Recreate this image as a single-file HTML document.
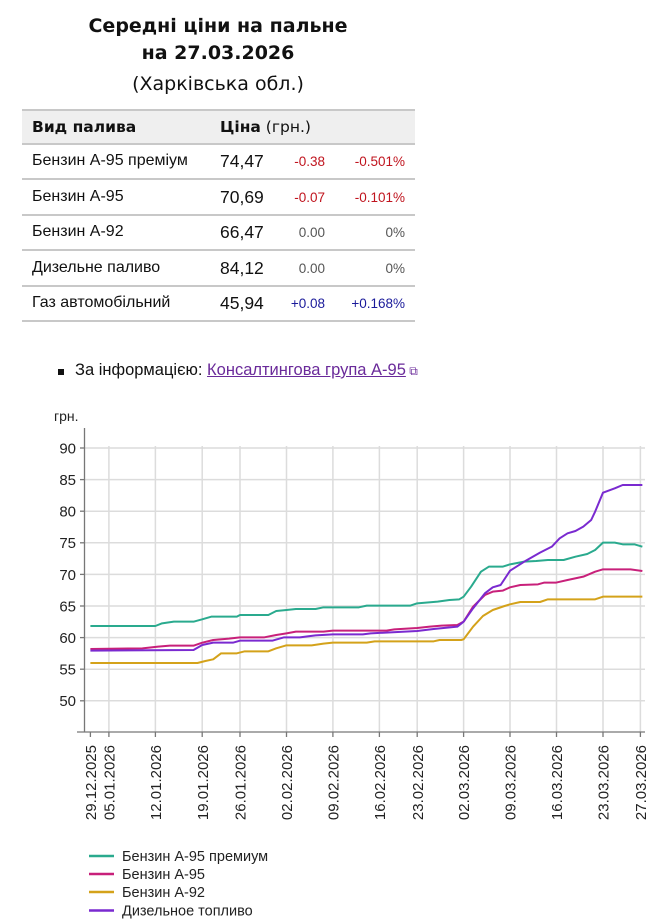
<!DOCTYPE html>
<html><head><meta charset="utf-8"><style>
body{margin:0;width:650px;height:924px;background:#fff;position:relative;font-family:"Liberation Sans",sans-serif;color:#111;overflow:hidden}
.t{position:absolute;left:0;width:436px;text-align:center;font-family:"DejaVu Sans",sans-serif}
.a{position:absolute;white-space:nowrap}
.hl{position:absolute;left:22px;width:393px;height:2px;background:#c8c8c8}
</style></head><body>
<div class="t" style="top:15px;font-size:19px;font-weight:bold">Середні ціни на пальне</div>
<div class="t" style="top:42px;font-size:19px;font-weight:bold">на 27.03.2026</div>
<div class="t" style="top:73px;font-size:19px">(Харківська обл.)</div>

<div style="position:absolute;left:22px;top:110px;width:393px;height:34px;background:#efefef"></div>
<div class="hl" style="top:109px"></div>
<div class="hl" style="top:143px"></div>
<div class="hl" style="top:178px"></div>
<div class="hl" style="top:214px"></div>
<div class="hl" style="top:249px"></div>
<div class="hl" style="top:285px"></div>
<div class="hl" style="top:320px"></div>
<div class="a" style="left:32px;top:118px;font:bold 15.5px 'DejaVu Sans',sans-serif">Вид палива</div>
<div class="a" style="left:220px;top:118px;font:15.5px 'DejaVu Sans',sans-serif"><b>Ціна</b> (грн.)</div>

<div class="a" style="left:32px;top:152px;font-size:16px">Бензин А-95 преміум</div>
<div class="a" style="left:32px;top:188px;font-size:16px">Бензин А-95</div>
<div class="a" style="left:32px;top:223px;font-size:16px">Бензин А-92</div>
<div class="a" style="left:32px;top:259px;font-size:16px">Дизельне паливо</div>
<div class="a" style="left:32px;top:294px;font-size:16px">Газ автомобільний</div>

<div class="a" style="left:220px;top:151px;font-size:17.5px">74,47</div>
<div class="a" style="left:220px;top:187px;font-size:17.5px">70,69</div>
<div class="a" style="left:220px;top:222px;font-size:17.5px">66,47</div>
<div class="a" style="left:220px;top:258px;font-size:17.5px">84,12</div>
<div class="a" style="left:220px;top:293px;font-size:17.5px">45,94</div>

<div class="a" style="right:325px;top:154px;font-size:13.5px;color:#c0141e">-0.38</div>
<div class="a" style="right:325px;top:190px;font-size:13.5px;color:#c0141e">-0.07</div>
<div class="a" style="right:325px;top:225px;font-size:13.5px;color:#555">0.00</div>
<div class="a" style="right:325px;top:261px;font-size:13.5px;color:#555">0.00</div>
<div class="a" style="right:325px;top:296px;font-size:13.5px;color:#1a1a9a">+0.08</div>
<div class="a" style="right:245px;top:154px;font-size:13.5px;color:#c0141e">-0.501%</div>
<div class="a" style="right:245px;top:190px;font-size:13.5px;color:#c0141e">-0.101%</div>
<div class="a" style="right:245px;top:225px;font-size:13.5px;color:#555">0%</div>
<div class="a" style="right:245px;top:261px;font-size:13.5px;color:#555">0%</div>
<div class="a" style="right:245px;top:296px;font-size:13.5px;color:#1a1a9a">+0.168%</div>

<div style="position:absolute;left:58px;top:369px;width:6px;height:6px;background:#111"></div>
<div class="a" style="left:75px;top:361px;font-size:16.5px">За інформацією: <span style="color:#6a2a9a;text-decoration:underline">Консалтингова група А-95</span><span style="color:#6a2a9a;font-size:12px"> ⧉</span></div>

<svg width="650" height="924" style="position:absolute;left:0;top:0" font-family="Liberation Sans, sans-serif">
<g stroke="#dcdcdc" stroke-width="1.5">
<line x1="84" x2="645" y1="448" y2="448"/><line x1="84" x2="645" y1="479.6" y2="479.6"/><line x1="84" x2="645" y1="511.2" y2="511.2"/><line x1="84" x2="645" y1="542.8" y2="542.8"/><line x1="84" x2="645" y1="574.4" y2="574.4"/><line x1="84" x2="645" y1="606" y2="606"/><line x1="84" x2="645" y1="637.6" y2="637.6"/><line x1="84" x2="645" y1="669.2" y2="669.2"/><line x1="84" x2="645" y1="700.8" y2="700.8"/>
<line x1="108.9" x2="108.9" y1="446" y2="732"/><line x1="155.4" x2="155.4" y1="446" y2="732"/><line x1="202.2" x2="202.2" y1="446" y2="732"/><line x1="240" x2="240" y1="446" y2="732"/><line x1="286.5" x2="286.5" y1="446" y2="732"/><line x1="332.9" x2="332.9" y1="446" y2="732"/><line x1="379.4" x2="379.4" y1="446" y2="732"/><line x1="417.2" x2="417.2" y1="446" y2="732"/><line x1="463.6" x2="463.6" y1="446" y2="732"/><line x1="510" x2="510" y1="446" y2="732"/><line x1="556.5" x2="556.5" y1="446" y2="732"/><line x1="603" x2="603" y1="446" y2="732"/><line x1="640.4" x2="640.4" y1="446" y2="732"/>
</g>
<g stroke="#777" stroke-width="1.3">
<line x1="84.5" x2="84.5" y1="428" y2="732"/><line x1="77" x2="645" y1="732" y2="732"/>
<line x1="80" x2="84.5" y1="448" y2="448"/><line x1="80" x2="84.5" y1="479.6" y2="479.6"/><line x1="80" x2="84.5" y1="511.2" y2="511.2"/><line x1="80" x2="84.5" y1="542.8" y2="542.8"/><line x1="80" x2="84.5" y1="574.4" y2="574.4"/><line x1="80" x2="84.5" y1="606" y2="606"/><line x1="80" x2="84.5" y1="637.6" y2="637.6"/><line x1="80" x2="84.5" y1="669.2" y2="669.2"/><line x1="80" x2="84.5" y1="700.8" y2="700.8"/>
<line x1="90.4" x2="90.4" y1="732" y2="737"/><line x1="108.9" x2="108.9" y1="732" y2="737"/><line x1="155.4" x2="155.4" y1="732" y2="737"/><line x1="202.2" x2="202.2" y1="732" y2="737"/><line x1="240" x2="240" y1="732" y2="737"/><line x1="286.5" x2="286.5" y1="732" y2="737"/><line x1="332.9" x2="332.9" y1="732" y2="737"/><line x1="379.4" x2="379.4" y1="732" y2="737"/><line x1="417.2" x2="417.2" y1="732" y2="737"/><line x1="463.6" x2="463.6" y1="732" y2="737"/><line x1="510" x2="510" y1="732" y2="737"/><line x1="556.5" x2="556.5" y1="732" y2="737"/><line x1="603" x2="603" y1="732" y2="737"/><line x1="640.4" x2="640.4" y1="732" y2="737"/>
</g>
<g font-size="15" fill="#222" text-anchor="end">
<text x="76" y="453.5">90</text><text x="76" y="485">85</text><text x="76" y="516.5">80</text><text x="76" y="548">75</text><text x="76" y="580">70</text><text x="76" y="611.5">65</text><text x="76" y="643">60</text><text x="76" y="674.5">55</text><text x="76" y="706">50</text>
</g>
<text x="54" y="421" font-size="14" fill="#222">грн.</text>
<g font-size="15" fill="#222" text-anchor="end">
<text transform="translate(96,745) rotate(-90)">29.12.2025</text>
<text transform="translate(114.5,745) rotate(-90)">05.01.2026</text>
<text transform="translate(161,745) rotate(-90)">12.01.2026</text>
<text transform="translate(207.8,745) rotate(-90)">19.01.2026</text>
<text transform="translate(245.6,745) rotate(-90)">26.01.2026</text>
<text transform="translate(292.1,745) rotate(-90)">02.02.2026</text>
<text transform="translate(338.5,745) rotate(-90)">09.02.2026</text>
<text transform="translate(385,745) rotate(-90)">16.02.2026</text>
<text transform="translate(422.8,745) rotate(-90)">23.02.2026</text>
<text transform="translate(469.2,745) rotate(-90)">02.03.2026</text>
<text transform="translate(515.6,745) rotate(-90)">09.03.2026</text>
<text transform="translate(562.1,745) rotate(-90)">16.03.2026</text>
<text transform="translate(608.6,745) rotate(-90)">23.03.2026</text>
<text transform="translate(646,745) rotate(-90)">27.03.2026</text>
</g>
<g transform="translate(40,400) scale(0.3937,0.33333)" fill="none" stroke-width="2" stroke-linejoin="round">
<polyline vector-effect="non-scaling-stroke" stroke="#d4a21a" points="128,789 400,789 420,783 440,778 460,760 500,760 520,754 580,754 600,745 626,736 690,736 720,731 744,728 830,728 850,724 1000,724 1015,720 1070,720 1076,718 1100,680 1125,648 1150,630 1180,618 1194,613 1220,606 1270,606 1290,598 1410,598 1430,590 1530,590"/>
<polyline vector-effect="non-scaling-stroke" stroke="#2aaa8e" points="128,678 293,678 310,670 340,665 390,665 412,658 435,650 500,650 508,645 580,645 600,633 626,630 650,627 700,627 720,622 810,622 830,617 940,617 958,610 1010,605 1040,600 1065,598 1076,590 1095,560 1120,515 1140,500 1175,500 1194,493 1230,485 1260,483 1290,480 1330,480 1360,470 1390,462 1410,450 1430,428 1460,428 1480,433 1510,433 1530,440"/>
<polyline vector-effect="non-scaling-stroke" stroke="#c8207a" points="128,747 260,745 300,740 330,737 390,737 412,728 440,720 480,716 508,712 570,712 600,705 626,700 650,695 720,695 744,692 880,692 900,688 958,684 990,680 1020,677 1060,675 1076,665 1100,620 1130,585 1150,575 1175,572 1194,562 1220,555 1265,553 1280,548 1310,548 1340,540 1380,530 1410,515 1430,508 1500,508 1530,513"/>
<polyline vector-effect="non-scaling-stroke" stroke="#7a2ad0" points="128,752 390,750 412,735 440,728 490,728 508,722 590,722 620,712 660,712 700,706 744,703 820,703 840,700 958,693 1000,687 1060,680 1076,665 1100,625 1130,580 1150,562 1170,555 1194,512 1230,485 1270,458 1300,440 1320,415 1340,400 1360,393 1380,380 1400,360 1410,335 1430,278 1460,265 1480,255 1530,255"/>
</g>
<g stroke-width="2.5">
<line x1="89" x2="114" y1="856" y2="856" stroke="#2aaa8e"/>
<line x1="89" x2="114" y1="874" y2="874" stroke="#c8207a"/>
<line x1="89" x2="114" y1="892" y2="892" stroke="#d4a21a"/>
<line x1="89" x2="114" y1="910.5" y2="910.5" stroke="#7a2ad0"/>
</g>
<g font-size="14.5" fill="#222">
<text x="122" y="861">Бензин А-95 премиум</text>
<text x="122" y="879">Бензин А-95</text>
<text x="122" y="897">Бензин А-92</text>
<text x="122" y="915.5">Дизельное топливо</text>
</g>
</svg>
</body></html>
